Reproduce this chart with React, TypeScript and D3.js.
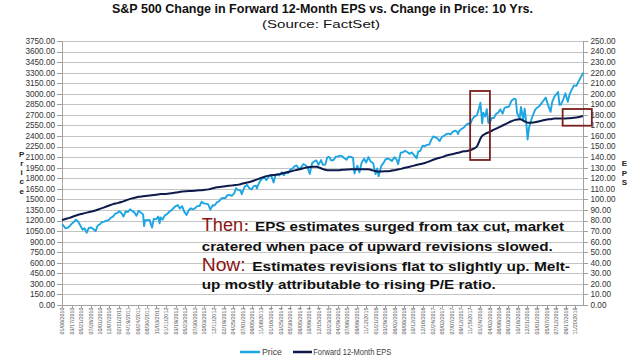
import React from "react";
import * as d3 from "d3";

// ---------- DATA ----------
const xLabels = [
  "01/08/2010","03/17/2010","05/21/2010","07/28/2010","10/01/2010","12/07/2010",
  "02/11/2011","04/19/2011","06/24/2011","08/30/2011","11/03/2011","01/11/2012",
  "03/19/2012","05/23/2012","07/30/2012","10/03/2012","12/11/2012","02/19/2013",
  "04/25/2013","07/01/2013","09/05/2013","11/08/2013","01/16/2014","03/25/2014",
  "05/30/2014","08/05/2014","10/09/2014","12/15/2014","02/23/2015","04/29/2015",
  "07/06/2015","09/09/2015","11/12/2015","01/21/2016","03/29/2016","06/02/2016",
  "08/08/2016","10/12/2016","12/16/2016","02/24/2017","05/02/2017","07/07/2017",
  "09/12/2017","11/15/2017","01/24/2018","04/02/2018","06/06/2018","08/10/2018",
  "10/16/2018","12/21/2018","03/01/2019","05/07/2019","07/12/2019","09/17/2019",
  "11/20/2019",
];

const priceTicks = d3.range(0, 3751, 150);
const epsTicks = d3.range(0, 251, 10);

const priceDates = [
  // 2010
  "2010-01-08","2010-01-15","2010-02-01","2010-02-15","2010-03-01","2010-03-15","2010-04-01","2010-04-15","2010-05-01","2010-05-15","2010-06-01","2010-06-15","2010-07-01","2010-07-15","2010-08-01","2010-08-15","2010-09-01","2010-09-15","2010-10-01","2010-10-15","2010-11-01","2010-11-15","2010-12-01","2010-12-15",
  // 2011
  "2011-01-03","2011-01-15","2011-02-01","2011-02-15","2011-03-01","2011-03-16","2011-04-01","2011-04-15","2011-05-01","2011-05-15","2011-06-01","2011-06-15","2011-07-01","2011-07-15","2011-08-01","2011-08-08","2011-08-15","2011-09-01","2011-09-15","2011-10-03","2011-10-15","2011-11-01","2011-11-15","2011-11-25","2011-12-01","2011-12-15",
  // 2012
  "2012-01-03","2012-01-15","2012-02-01","2012-02-15","2012-03-01","2012-03-15","2012-04-01","2012-04-15","2012-05-01","2012-05-15","2012-06-01","2012-06-15","2012-07-01","2012-07-15","2012-08-01","2012-08-15","2012-09-01","2012-09-15","2012-10-01","2012-10-15","2012-11-01","2012-11-15","2012-12-01","2012-12-15",
  // 2013
  "2013-01-02","2013-01-15","2013-02-01","2013-02-15","2013-03-01","2013-03-15","2013-04-01","2013-04-15","2013-05-01","2013-05-15","2013-06-01","2013-06-15","2013-06-24","2013-07-01","2013-07-15","2013-08-01","2013-08-15","2013-09-01","2013-09-15","2013-10-01","2013-10-09","2013-10-15","2013-11-01","2013-11-15","2013-12-01","2013-12-15",
  // 2014
  "2014-01-02","2014-01-15","2014-02-03","2014-02-15","2014-03-01","2014-03-15","2014-04-01","2014-04-15","2014-05-01","2014-05-15","2014-06-01","2014-06-15","2014-07-01","2014-07-15","2014-08-01","2014-08-15","2014-09-01","2014-09-15","2014-10-01","2014-10-15","2014-11-01","2014-11-15","2014-12-01","2014-12-15",
  // 2015
  "2015-01-02","2015-01-15","2015-02-01","2015-02-15","2015-03-01","2015-03-15","2015-04-01","2015-04-15","2015-05-01","2015-05-15","2015-06-01","2015-06-15","2015-07-01","2015-07-15","2015-08-01","2015-08-15","2015-08-25","2015-09-01","2015-09-15","2015-09-29","2015-10-15","2015-11-01","2015-11-15","2015-12-01","2015-12-15",
  // 2016
  "2016-01-04","2016-01-20","2016-02-01","2016-02-11","2016-03-01","2016-03-15","2016-04-01","2016-04-15","2016-05-01","2016-05-15","2016-06-01","2016-06-15","2016-06-27","2016-07-15","2016-08-01","2016-08-15","2016-09-01","2016-09-15","2016-10-01","2016-10-15","2016-11-04","2016-11-15","2016-12-01","2016-12-15",
  // 2017
  "2017-01-03","2017-01-15","2017-02-01","2017-02-15","2017-03-01","2017-03-15","2017-04-01","2017-04-15","2017-05-01","2017-05-15","2017-06-01","2017-06-15","2017-07-01","2017-07-15","2017-08-01","2017-08-15","2017-08-21","2017-09-01","2017-09-15","2017-10-01","2017-10-15","2017-11-01","2017-11-15","2017-12-01","2017-12-15",
  // 2018
  "2018-01-02","2018-01-15","2018-01-26","2018-02-08","2018-02-15","2018-03-01","2018-03-12","2018-03-23","2018-04-02","2018-04-15","2018-05-01","2018-05-15","2018-06-01","2018-06-15","2018-07-01","2018-07-15","2018-08-01","2018-08-15","2018-09-01","2018-09-20","2018-10-01","2018-10-11","2018-10-29","2018-11-07","2018-11-23","2018-12-03","2018-12-14","2018-12-24",
  // 2019
  "2019-01-02","2019-01-15","2019-02-01","2019-02-15","2019-03-01","2019-03-15","2019-04-01","2019-04-15","2019-04-30","2019-05-15","2019-06-03","2019-06-15","2019-07-01","2019-07-26","2019-08-05","2019-08-15","2019-09-01","2019-09-15","2019-10-02","2019-10-15","2019-11-01","2019-11-15","2019-12-02","2019-12-15","2019-12-31",
  // 2020
  "2020-01-10","2020-01-17",
];

const priceValues = [
  // 2010
  1145,1136,1090,1095,1115,1150,1178,1211,1187,1136,1070,1090,1027,1096,1101,1080,1050,1125,1146,1176,1184,1197,1206,1236,
  // 2011
  1258,1293,1307,1332,1306,1257,1332,1320,1360,1337,1315,1266,1340,1316,1287,1120,1204,1204,1209,1099,1224,1218,1257,1159,1244,1215,
  // 2012
  1277,1289,1324,1344,1374,1402,1419,1370,1405,1330,1278,1342,1374,1356,1375,1405,1406,1465,1444,1440,1428,1353,1416,1413,
  // 2013
  1462,1472,1513,1520,1518,1561,1562,1552,1582,1658,1631,1626,1573,1614,1682,1706,1661,1640,1688,1695,1656,1698,1762,1798,1806,1775,
  // 2014
  1832,1848,1741,1838,1859,1841,1885,1842,1883,1870,1924,1937,1973,1981,1925,1955,2003,1984,1946,1862,2018,2039,2053,1990,
  // 2015
  2058,1992,1995,2096,2104,2053,2059,2106,2108,2122,2111,2084,2063,2108,2103,2091,1868,1914,1978,1884,2023,2079,2023,2102,2043,
  // 2016
  2012,1859,1940,1829,1978,2015,2073,2081,2065,2047,2099,2071,2001,2162,2170,2190,2170,2147,2168,2133,2085,2180,2191,2262,
  // 2017
  2258,2274,2279,2349,2395,2385,2363,2329,2388,2402,2430,2433,2423,2459,2476,2464,2428,2476,2500,2519,2553,2579,2565,2642,2675,
  // 2018
  2695,2786,2873,2581,2732,2678,2783,2588,2582,2656,2654,2711,2735,2779,2718,2801,2813,2818,2901,2931,2924,2728,2641,2813,2633,2790,2600,2351,
  // 2019
  2510,2610,2706,2775,2803,2822,2867,2905,2946,2850,2744,2886,2964,3025,2844,2847,2926,3007,2887,2995,3066,3120,3113,3168,3230,
  // 2020
  3265,3300,
];

const epsDates = [
  "2010-01-08","2010-02-01","2010-03-01","2010-04-01","2010-05-01","2010-06-01","2010-07-01","2010-08-01","2010-09-01","2010-10-01","2010-11-01","2010-12-01",
  "2011-01-01","2011-02-01","2011-03-01","2011-04-01","2011-05-01","2011-06-01","2011-07-01","2011-08-01","2011-09-01","2011-10-01","2011-11-01","2011-12-01",
  "2012-01-01","2012-02-01","2012-03-01","2012-04-01","2012-05-01","2012-06-01","2012-07-01","2012-08-01","2012-09-01","2012-10-01","2012-11-01","2012-12-01",
  "2013-01-01","2013-02-01","2013-03-01","2013-04-01","2013-05-01","2013-06-01","2013-07-01","2013-08-01","2013-09-01","2013-10-01","2013-11-01","2013-12-01",
  "2014-01-01","2014-02-01","2014-03-01","2014-04-01","2014-05-01","2014-06-01","2014-07-01","2014-08-01","2014-09-01","2014-10-01","2014-11-01","2014-12-01",
  "2015-01-01","2015-02-01","2015-03-01","2015-04-01","2015-05-01","2015-06-01","2015-07-01","2015-08-01","2015-09-01","2015-10-01","2015-11-01","2015-12-01",
  "2016-01-01","2016-02-01","2016-03-01","2016-04-01","2016-05-01","2016-06-01","2016-07-01","2016-08-01","2016-09-01","2016-10-01","2016-11-01","2016-12-01",
  "2017-01-01","2017-02-01","2017-03-01","2017-04-01","2017-05-01","2017-06-01","2017-07-01","2017-08-01","2017-09-01","2017-10-01","2017-11-01","2017-12-01",
  "2018-01-01","2018-02-01","2018-03-01","2018-04-01","2018-05-01","2018-06-01","2018-07-01","2018-08-01","2018-09-01","2018-10-01","2018-11-01","2018-12-01",
  "2019-01-01","2019-02-01","2019-03-01","2019-04-01","2019-05-01","2019-06-01","2019-07-01","2019-08-01","2019-09-01","2019-10-01","2019-11-01","2019-12-01",
  "2020-01-17",
];

const epsValues = [
  80.5,81.5,82.5,84,85.5,86.5,87.5,88.5,89.5,91,92.5,94,
  95.5,96.5,97.5,99,100.5,101.5,102.5,103,103.5,104,104.5,105,
  105.2,105.5,106,106.8,107.5,107.8,108,108.3,108.6,109,109.5,110.5,
  111.5,112,112.5,113,113.5,114,115,116,117,118.5,120,121.5,
  122.5,123,123.5,124.5,125.5,126.5,127.5,128.5,129.5,130.5,131,131,
  129.5,128,127.5,127.5,127.5,128,128.3,128.5,128.5,128.5,128.5,128.5,
  127.5,126.5,126.5,126.7,127,127.7,128.5,129.5,130.5,131.5,132.5,133.5,
  134.5,136,137.5,139,140,141.5,142.5,143.5,144.5,145.5,146,147.5,
  150,159,162,164,166,168,170,172,174,175.5,175.8,174,
  172.5,172.8,173.5,174.5,175.5,176,176.5,176.5,176.5,176.8,177,177.5,
  179,
];

// highlight boxes (date range, value range on price / EPS scale)
const box1 = { from: "2017-11-15", to: "2018-04-03", priceHigh: 3040, priceLow: 2060 };
const box2 = { from: "2019-08-27", to: "2020-03-19", epsHigh: 185.6, epsLow: 169.8 };

const titleText = "S&P 500 Change in Forward 12-Month EPS vs. Change in Price: 10 Yrs.";
const subtitleText = "(Source: FactSet)";

// ---------- COMPONENT ----------
const FONT = "'Liberation Sans', Arial, sans-serif";

export default function App() {
  const W = 640, H = 361;
  const left = 62, right = 583, top = 41, bottom = 305;
  const parseISO = d3.timeParse("%Y-%m-%d");
  const parseLbl = d3.timeParse("%m/%d/%Y");

  const x = d3.scaleTime()
    .domain([parseISO("2010-01-08")!, parseISO("2020-01-17")!])
    .range([left, right]);
  const yP = d3.scaleLinear().domain([0, 3750]).range([bottom, top]);
  const yE = d3.scaleLinear().domain([0, 250]).range([bottom, top]);

  const priceData = priceDates.map((d, i) => ({ d: parseISO(d)!, v: priceValues[i] }));
  const epsData = epsDates.map((d, i) => ({ d: parseISO(d)!, v: epsValues[i] }));

  const priceLine = d3.line<{ d: Date; v: number }>().x(p => x(p.d)).y(p => yP(p.v));
  const epsLine = d3.line<{ d: Date; v: number }>().x(p => x(p.d)).y(p => yE(p.v)).curve(d3.curveMonotoneX);

  const red = "#8B1414";
  const b1x0 = x(parseISO(box1.from)!), b1x1 = x(parseISO(box1.to)!);
  const b2x0 = x(parseISO(box2.from)!), b2x1 = x(parseISO(box2.to)!);

  return (
    <svg width={W} height={H} style={{ position: "absolute", left: 0, top: 0, background: "#fff" }} fontFamily={FONT}>
      <rect x={0} y={0} width={W} height={H} fill="#fff" />
      {/* title */}
      <text x={112} y={12.5} fontSize={12.5} fontWeight="bold" fill="#111" textLength={421} lengthAdjust="spacingAndGlyphs">{titleText}</text>
      <text x={262} y={27.5} fontSize={11.5} fill="#111" textLength={118} lengthAdjust="spacingAndGlyphs">{subtitleText}</text>

      {/* gridlines */}
      {priceTicks.map(t => (
        <line key={"g" + t} x1={left} x2={right} y1={Math.round(yP(t)) + 0.5} y2={Math.round(yP(t)) + 0.5}
          stroke={t === 0 ? "#A0A0A0" : "#C4C4C4"} strokeWidth={1} />
      ))}
      {/* axes */}
      <line x1={left + 0.5} x2={left + 0.5} y1={top} y2={bottom + 1} stroke="#A0A0A0" />
      <line x1={right + 0.5} x2={right + 0.5} y1={top} y2={bottom + 1} stroke="#A0A0A0" />
      {priceTicks.map(t => (
        <g key={"lt" + t}>
          <line x1={left - 5} x2={left} y1={Math.round(yP(t)) + 0.5} y2={Math.round(yP(t)) + 0.5} stroke="#A0A0A0" />
          <text x={55} y={yP(t)} dy="0.35em" fontSize={8.2} textAnchor="end" fill="#333">{t.toFixed(2)}</text>
        </g>
      ))}
      {epsTicks.map(t => (
        <g key={"rt" + t}>
          <line x1={right} x2={right + 5} y1={Math.round(yE(t)) + 0.5} y2={Math.round(yE(t)) + 0.5} stroke="#A0A0A0" />
          <text x={590.5} y={yE(t)} dy="0.35em" fontSize={8.2} textAnchor="start" fill="#333">{t.toFixed(2)}</text>
        </g>
      ))}
      {/* x ticks + labels */}
      {xLabels.map(l => {
        const xx = x(parseLbl(l)!);
        return (
          <g key={l}>
            <line x1={Math.round(xx) + 0.5} x2={Math.round(xx) + 0.5} y1={bottom} y2={bottom + 3} stroke="#A0A0A0" />
            <text transform={`translate(${xx},307.5) rotate(-90)`} dy="0.35em" fontSize={6} textAnchor="end"
              fill="#555" textLength={27} lengthAdjust="spacingAndGlyphs">{l}</text>
          </g>
        );
      })}

      {/* axis titles */}
      {"Price".split("").map((c, i) => (
        <text key={"pa" + i} x={21.7} y={154 + i * 9.2} dy="0.35em" fontSize={8} fontWeight="bold" textAnchor="middle" fill="#222">{c}</text>
      ))}
      {"EPS".split("").map((c, i) => (
        <text key={"ea" + i} x={624.5} y={163.5 + i * 9.2} dy="0.35em" fontSize={8} fontWeight="bold" textAnchor="middle" fill="#222">{c}</text>
      ))}

      {/* series */}
      <path d={priceLine(priceData)!} fill="none" stroke="#1EA6E2" strokeWidth={1.9} strokeLinejoin="round" />
      <path d={epsLine(epsData)!} fill="none" stroke="#0D1A4B" strokeWidth={2} strokeLinejoin="round" />

      {/* boxes */}
      <rect x={b1x0} y={yP(box1.priceHigh)} width={b1x1 - b1x0} height={yP(box1.priceLow) - yP(box1.priceHigh)}
        fill="none" stroke="#7A1E1E" strokeWidth={1.8} />
      <rect x={b2x0} y={yE(box2.epsHigh)} width={b2x1 - b2x0} height={yE(box2.epsLow) - yE(box2.epsHigh)}
        fill="none" stroke="#7A1E1E" strokeWidth={1.8} />

      {/* annotation */}
      <text x={201.7} y={231} fontSize={17.5} fill={red} textLength={41.5} lengthAdjust="spacingAndGlyphs">Then</text>
      <text x={244} y={231} fontSize={14} fontWeight="bold" fill={red}>:</text>
      <text x={255} y={231} fontSize={13.5} fontWeight="bold" fill="#111" textLength={309} lengthAdjust="spacingAndGlyphs">EPS estimates surged from tax cut, market</text>
      <text x={201.7} y={250.7} fontSize={13.5} fontWeight="bold" fill="#111" textLength={351} lengthAdjust="spacingAndGlyphs">cratered when pace of upward revisions slowed.</text>
      <text x={201.7} y={270.5} fontSize={17.5} fill={red} textLength={44} lengthAdjust="spacingAndGlyphs">Now:</text>
      <text x={252.3} y={270.5} fontSize={13.5} fontWeight="bold" fill="#111" textLength={317.7} lengthAdjust="spacingAndGlyphs">Estimates revisions flat to slightly up. Melt-</text>
      <text x={201.7} y={288.5} fontSize={13.5} fontWeight="bold" fill="#111" textLength={294} lengthAdjust="spacingAndGlyphs">up mostly attributable to rising P/E ratio.</text>

      {/* legend */}
      <line x1={240} x2={260} y1={352} y2={352} stroke="#1EA6E2" strokeWidth={2.5} />
      <text x={262} y={352} dy="0.35em" fontSize={8.5} fill="#404040" textLength={20} lengthAdjust="spacingAndGlyphs">Price</text>
      <line x1={293} x2={312} y1={352} y2={352} stroke="#0D1A4B" strokeWidth={2.5} />
      <text x={313.3} y={352} dy="0.35em" fontSize={8.5} fill="#404040" textLength={78} lengthAdjust="spacingAndGlyphs">Forward 12-Month EPS</text>
    </svg>
  );
}
